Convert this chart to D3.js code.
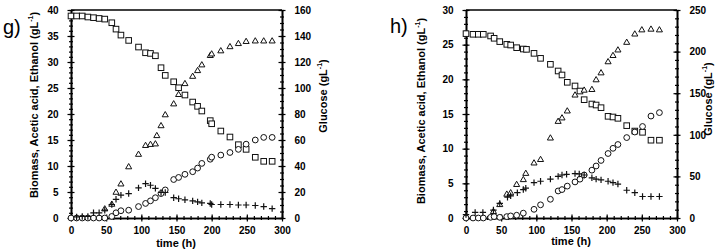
<!DOCTYPE html>
<html>
<head>
<meta charset="utf-8">
<script src="https://cdn.jsdelivr.net/npm/d3@7"></script>
<style>
  body { margin: 0; background: #fff; }
  text { font-family: "Liberation Sans", Arial, sans-serif; }
</style>
</head>
<body>
<script>
// ---- panel g data ----
const gGlucoseT = [0,8,16,24,32,40,48,58,64,71,82,96,106,113,120,128,134,146,153,162,173,180,186,198,200,213,226,238,249,262,274,286]
const gGlucose  = [155.4,155.4,155.4,154.6,154.1,153.5,153,150.2,145.3,140.7,136.6,131.5,127.1,126.6,124.8,115.6,109.7,104.8,100.2,94.6,89.2,85.9,82.3,74.9,72.5,66.9,62.3,56.4,52.8,46.7,43.6,43.6]
const gEthanolT = [48,58,64,71,82,96,106,113,120,122,128,134,146,153,162,173,180,186,198,200,213,226,238,249,262,274,286]
const gEthanol  = [1.7,2.6,4.9,6.5,9.8,12.2,13.9,14.1,14.2,15.8,17.7,19.8,21.9,23.7,25.8,27.2,28.3,29.4,31.2,31.5,32.1,32.9,33.5,33.9,34,34,34]
const gBiomassT = gGlucoseT
const gBiomass  = [0,0,0,0,0,0,0,0.3,1,1.4,1.5,2.2,2.8,3.3,3.9,4.7,5.4,7.4,7.8,8.4,8.9,9.6,10.5,11.3,11.7,12.1,12.6,13.2,14.2,15,15.5,15.5]
const gAceticT  = [8,16,24,32,40,48,58,64,71,82,96,106,113,120,128,134,146,153,162,173,180,186,198,200,213,226,238,249,262,274,286]
const gAcetic   = [0.2,0.3,0.3,1,1,1.5,2.6,3.6,4.4,4.7,5.8,6.6,6.3,5.7,4.9,4.9,3.9,3.7,3.5,3.3,3.1,2.9,2.8,2.6,2.6,2.6,2.5,2.5,2.4,2.2,1.8]

// ---- panel h data ----
const hGlucoseT = [0,10,17.5,24.6,35,40,48,58,63.5,72,81.5,86,96.7,106,120,131,136.5,144,155,162,168,179,185,192,202,209,216,228.5,240,251,263,275]
const hGlucose  = [221.6,220.8,220.8,220.8,218.8,216,212,208.7,207.9,204.7,203.1,202.7,197.9,191.9,184.7,176.7,171.9,163.1,158.7,152.6,142.2,137,135.8,132.6,122.2,121.4,119.8,111,104.5,103,93.5,93.5]
const hEthanolT = [39,48,58,63.5,72,81.5,85,96.7,106,120,131,136.5,144,155,168,179,185,192,202,209,216,228.5,240,250,263,275]
const hEthanol  = [0.9,1.9,3.4,3.6,4.8,5.5,6.4,7.9,8.4,11.5,13.9,14.4,15.4,17.7,18.4,18.5,19.9,20.9,22.5,23.4,24.2,25.3,26.5,27.1,27.2,27.1]
const hBiomassT = [0,10,17.5,24.6,35,40,48,58,63.5,72,81.5,96.7,106,120,131,136.5,144,155,162,168,179,185,192,202,209,216,228.5,240,251,263,275]
const hBiomass  = [0,0,0,0,0.1,0.2,0.1,0.2,0.3,0.4,0.7,1.25,1.9,2.7,3.9,4.1,4.6,5.2,5.6,6.2,6.9,7.5,8.3,9.3,10.05,10.6,11.6,12.4,13.2,14.7,15.2]
const hAceticT  = [0,13,24,39,48,59,63.5,73,81.5,85,96.7,106,120,131,136.5,143,155,161,168,179,185,192,202,209,216,228.5,240,251,263,275]
const hAcetic   = [0.5,0.8,0.8,1.15,2.1,3,3.2,3.65,4.1,4.3,5.1,5.3,5.6,6,6.2,6.3,6.4,6.35,6.2,5.8,5.6,5.5,5.3,5.1,4.9,4,3.65,3.1,3.1,3.1]

const leftTitle = 'Biomass, Acetic acid, Ethanol (gL'
const rightTitle = 'Glucose (gL'
const xTitle = 'time (h)'

const svg = d3.select('body').append('svg')
  .attr('width',720).attr('height',252)

function zip(t,v){ return t.map((d,i) => [d,v[i]]) }

function crossTicks(g,size,dir){
  // make the axis ticks cross the line (in and out)
  g.selectAll('.tick line').each(function(){
    var l = d3.select(this)
    if(dir=='x') l.attr('y1',-size).attr('y2',size)
    else l.attr('x1',-size).attr('x2',size)
  })
}

function drawPanel(p){
  const x = d3.scaleLinear().domain([0,300]).range([p.x0,p.x1])
  const yL = d3.scaleLinear().domain([0,p.leftMax]).range([218,10])
  const yR = d3.scaleLinear().domain([0,p.rightMax]).range([218,10])
  const g = svg.append('g')

  // minor ticks
  g.append('g').attr('transform','translate(0,218)')
    .call(d3.axisBottom(x).tickValues(d3.range(0,301,10)).tickFormat('').tickSize(2).tickSizeOuter(0))
    .call(a => crossTicks(a,2,'x'))
  g.append('g').attr('transform',`translate(${p.x0},0)`)
    .call(d3.axisLeft(yL).tickValues(d3.range(0,p.leftMax+0.1,1)).tickFormat('').tickSize(2).tickSizeOuter(0))
    .call(a => crossTicks(a,2,'y'))
  g.append('g').attr('transform',`translate(${p.x1},0)`)
    .call(d3.axisRight(yR).tickValues(d3.range(0,p.rightMax+0.1,p.rightMinor)).tickFormat('').tickSize(2).tickSizeOuter(0))
    .call(a => crossTicks(a,2,'y'))

  // major ticks
  g.append('g').attr('transform','translate(0,218)')
    .call(d3.axisBottom(x).tickValues(d3.range(0,301,50)).tickSize(3.5).tickPadding(5).tickSizeOuter(0))
    .call(a => crossTicks(a,3.5,'x'))
  g.append('g').attr('transform',`translate(${p.x0},0)`)
    .call(d3.axisLeft(yL).tickValues(d3.range(0,p.leftMax+0.1,5)).tickSize(3.5).tickPadding(9).tickSizeOuter(0))
    .call(a => crossTicks(a,3.5,'y'))
  g.append('g').attr('transform',`translate(${p.x1},0)`)
    .call(d3.axisRight(yR).tickValues(d3.range(0,p.rightMax+0.1,p.rightMajor)).tickSize(3.5).tickPadding(9).tickSizeOuter(0))
    .call(a => crossTicks(a,3.5,'y'))

  g.selectAll('.domain').attr('stroke','#000').attr('stroke-width',1.6)
  g.selectAll('.tick line').attr('stroke','#000').attr('stroke-width',1.2)
  g.selectAll('.tick text').attr('font-family','"Liberation Sans", Arial, sans-serif')
    .attr('font-size',10).attr('font-weight','bold').attr('fill','#000')

  // top border
  g.append('line').attr('x1',p.x0).attr('x2',p.x1).attr('y1',10).attr('y2',10)
    .attr('stroke','#000').attr('stroke-width',1.6)

  // titles
  const lt = g.append('text').attr('transform',`translate(${p.lx},${p.ly}) rotate(-90)`)
    .attr('text-anchor','middle').attr('dominant-baseline','central')
    .attr('font-size',11).attr('font-weight','bold')
  lt.append('tspan').text(leftTitle)
  lt.append('tspan').attr('font-size',7).attr('dy',-4).text('-1')
  lt.append('tspan').attr('dy',4).text(')')

  const rt = g.append('text').attr('transform',`translate(${p.rx},${p.ry}) rotate(-90)`)
    .attr('text-anchor','middle').attr('dominant-baseline','central')
    .attr('font-size',11).attr('font-weight','bold')
  rt.append('tspan').text(rightTitle)
  rt.append('tspan').attr('font-size',7).attr('dy',-4).text('-1')
  rt.append('tspan').attr('dy',4).text(')')

  g.append('text').attr('x',p.tx).attr('y',p.ty)
    .attr('text-anchor','middle').attr('font-size',11).attr('font-weight','bold')
    .text(xTitle)

  g.append('text').attr('x',p.px).attr('y',p.py)
    .attr('font-size',20).text(p.label)

  // markers
  const m = g.append('g').attr('stroke','#111').attr('stroke-width',1).attr('fill','#fff')
  m.selectAll('rect').data(zip(p.glucoseT,p.glucose)).enter().append('rect')
    .attr('x',d => x(d[0])-2.8).attr('y',d => yR(d[1])-2.8)
    .attr('width',5.6).attr('height',5.6)
  const tri = d3.symbol().type(d3.symbolTriangle).size(16)
  m.selectAll('path.tri').data(zip(p.ethanolT,p.ethanol)).enter().append('path')
    .attr('class','tri')
    .attr('d',tri)
    .attr('transform',d => `translate(${x(d[0])},${yL(d[1])})`)
  m.selectAll('circle').data(zip(p.biomassT,p.biomass)).enter().append('circle')
    .attr('cx',d => x(d[0])).attr('cy',d => yL(d[1])).attr('r',2.9)
  m.selectAll('path.plus').data(zip(p.aceticT,p.acetic)).enter().append('path')
    .attr('class','plus').attr('fill','none').attr('stroke-width',1.2)
    .attr('d',d => {
      var cx = x(d[0]), cy = yL(d[1])
      return ['M',cx-3.2,cy,'H',cx+3.2,'M',cx,cy-3.2,'V',cy+3.2].join(' ')
    })
}

drawPanel({
  label:'g)', px:3, py:34,
  x0:71, x1:282, leftMax:40, rightMax:160, rightMajor:20, rightMinor:5,
  lx:34, ly:105, rx:323, ry:96, tx:176, ty:247,
  glucoseT:gGlucoseT, glucose:gGlucose, ethanolT:gEthanolT, ethanol:gEthanol,
  biomassT:gBiomassT, biomass:gBiomass, aceticT:gAceticT, acetic:gAcetic
})
drawPanel({
  label:'h)', px:390, py:33,
  x0:466, x1:677, leftMax:30, rightMax:250, rightMajor:50, rightMinor:10,
  lx:421, ly:111, rx:708, ry:99, tx:571, ty:245,
  glucoseT:hGlucoseT, glucose:hGlucose, ethanolT:hEthanolT, ethanol:hEthanol,
  biomassT:hBiomassT, biomass:hBiomass, aceticT:hAceticT, acetic:hAcetic
})
</script>
</body>
</html>
